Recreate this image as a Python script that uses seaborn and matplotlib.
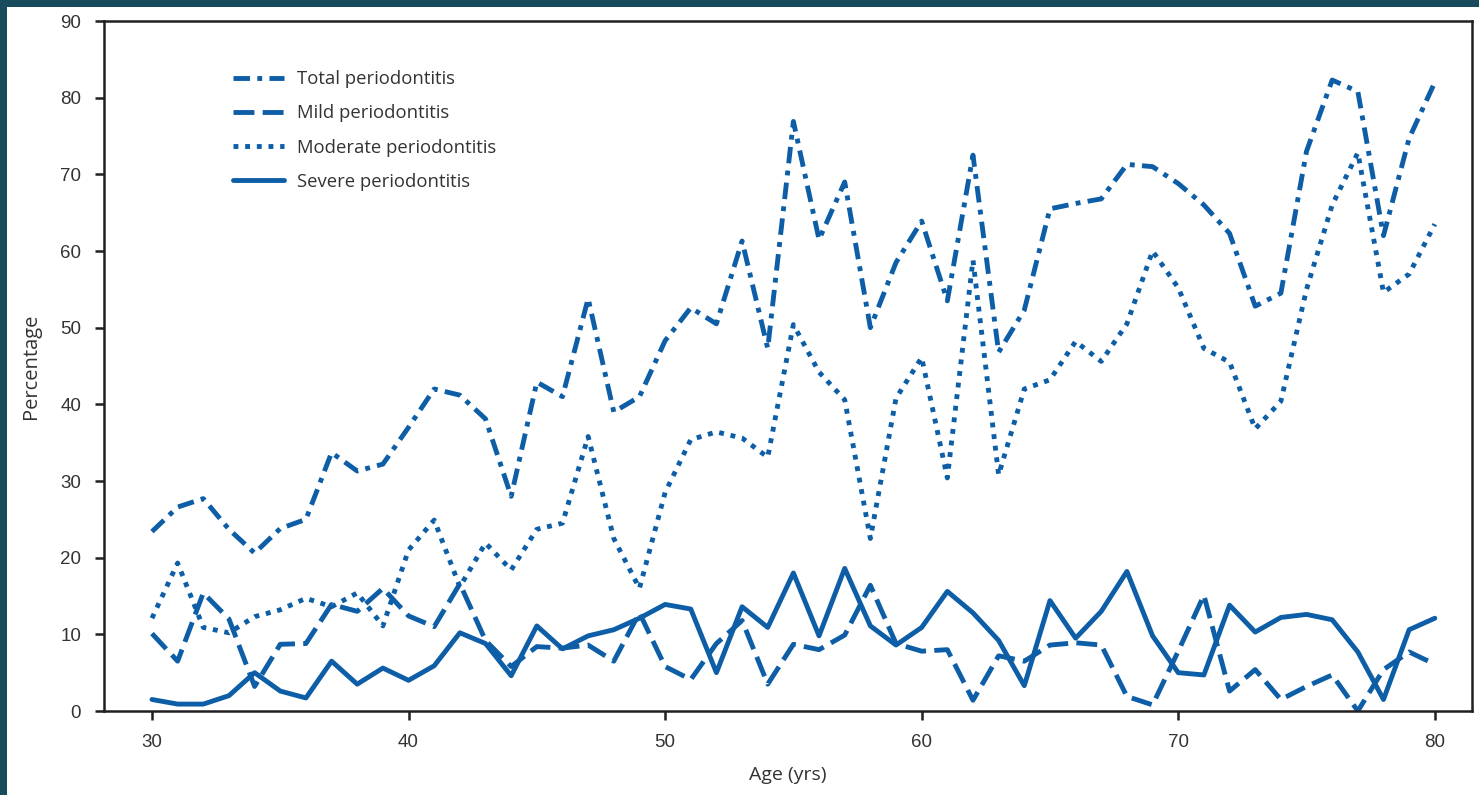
import numpy as np
import pandas as pd
import matplotlib
matplotlib.use("Agg")
import matplotlib.pyplot as plt
from matplotlib.patches import Rectangle
import seaborn as sns

# ===================== DATOS =====================
edades = list(range(30, 81))

total = [23.4, 26.6, 27.7, 23.7, 20.6, 23.8, 25.0, 33.7, 31.3, 32.2,
         37.0, 42.0, 41.2, 38.1, 28.0, 42.9, 41.0, 53.8, 39.0, 41.0,
         48.3, 52.6, 50.5, 61.3, 47.3, 76.9, 61.5, 69.0, 50.0, 58.5,
         63.9, 53.5, 72.5, 46.8, 52.3, 65.5, 66.2, 66.8, 71.3, 71.0,
         68.8, 66.0, 62.3, 52.8, 54.5, 73.0, 82.3, 80.8, 62.0, 74.7, 82.0]

leve = [10.1, 6.5, 15.4, 12.0, 3.2, 8.7, 8.8, 13.9, 13.0, 16.0,
        12.4, 11.0, 16.6, 9.2, 5.8, 8.4, 8.2, 8.6, 6.5, 12.8,
        5.8, 4.1, 8.8, 11.8, 3.5, 8.7, 8.0, 9.9, 16.4, 8.8,
        7.8, 8.0, 1.4, 7.2, 6.5, 8.6, 8.9, 8.6, 1.9, 0.8,
        7.8, 15.1, 2.6, 5.4, 1.5, 3.2, 4.7, 0.0, 5.4, 7.7, 6.1]

moderada = [12.1, 19.3, 10.9, 10.2, 12.3, 13.2, 14.7, 13.6, 15.4, 11.1,
            21.0, 24.9, 16.2, 21.9, 18.4, 23.7, 24.5, 35.8, 22.5, 16.0,
            28.5, 35.4, 36.4, 35.6, 33.1, 50.4, 44.2, 40.6, 22.5, 40.8,
            46.1, 30.4, 58.8, 30.8, 42.0, 43.2, 48.2, 45.6, 50.5, 60.0,
            55.2, 47.3, 45.5, 36.8, 40.4, 55.0, 66.0, 72.8, 54.6, 57.0, 63.5]

severa = [1.5, 0.9, 0.9, 2.0, 5.0, 2.6, 1.7, 6.5, 3.5, 5.6,
          4.0, 5.9, 10.2, 8.8, 4.6, 11.1, 8.1, 9.8, 10.6, 12.1,
          13.9, 13.3, 5.0, 13.6, 10.9, 18.0, 9.8, 18.6, 11.1, 8.6,
          10.9, 15.6, 12.8, 9.2, 3.3, 14.4, 9.5, 13.0, 18.2, 9.8,
          5.0, 4.7, 13.8, 10.3, 12.2, 12.6, 11.9, 7.7, 1.5, 10.6, 12.1]

etiquetas = ["Total periodontitis", "Mild periodontitis",
             "Moderate periodontitis", "Severe periodontitis"]

# ===================== ESTILO =====================
sns.set_style("ticks")
plt.rcParams['font.family'] = ['Open Sans', 'DejaVu Sans']

azul = "#0d5ea6"
teal = "#184c5c"
gris = "#333333"
lw = 3.5

estilos = {
    "Total periodontitis": (0, (3.4, 1.5, 1.0, 1.5)),
    "Mild periodontitis": (0, (4.3, 1.7)),
    "Moderate periodontitis": (0, (1.0, 1.4)),
    "Severe periodontitis": "-",
}

df = pd.DataFrame({
    "edad": edades * 4,
    "valor": total + leve + moderada + severa,
    "serie": np.repeat(etiquetas, len(edades)),
})

# ===================== FIGURA =====================
# fondo blanco con franja oscura arriba y a la izquierda
fig = plt.figure(figsize=(14.79, 7.95), dpi=100, facecolor="white")
fig.patches.append(Rectangle((0, 1 - 7 / 795), 1, 7 / 795,
                             transform=fig.transFigure, facecolor=teal,
                             edgecolor="none", zorder=-10))
fig.patches.append(Rectangle((0, 0), 7 / 1479, 1,
                             transform=fig.transFigure, facecolor=teal,
                             edgecolor="none", zorder=-10))
ax = fig.add_axes([104 / 1479, 1 - 711 / 795, 1368 / 1479, 690 / 795])

for nombre in etiquetas:
    sub = df[df["serie"] == nombre]
    sns.lineplot(data=sub, x="edad", y="valor", ax=ax, color=azul,
                 linewidth=lw, linestyle=estilos[nombre], label=nombre,
                 legend=False)

ax.set_xlim(28.13, 81.45)
ax.set_ylim(0, 90)
ax.set_xticks([30, 40, 50, 60, 70, 80])
ax.set_yticks(range(0, 91, 10))

for s in ax.spines.values():
    s.set_color("#231f20")
    s.set_linewidth(1.8)

ax.tick_params(axis="both", direction="out", length=6.5, width=1.8,
               color="#231f20", labelcolor=gris, pad=10)
for t in ax.get_xticklabels() + ax.get_yticklabels():
    t.set_fontfamily(['Liberation Sans', 'DejaVu Sans'])
    t.set_fontsize(13.5)

ax.set_xlabel("Age (yrs)", fontsize=14, color=gris, labelpad=11)
ax.set_ylabel("Percentage", fontsize=14.5, color=gris, labelpad=14)

leg = ax.legend(loc="upper left", bbox_to_anchor=(0.094, 0.929),
                frameon=False, fontsize=13.3, handlelength=2.8,
                handletextpad=0.7, labelspacing=0.88, borderpad=0,
                borderaxespad=0)
for t in leg.get_texts():
    t.set_color(gris)

fig.savefig("out.png", dpi=100)
